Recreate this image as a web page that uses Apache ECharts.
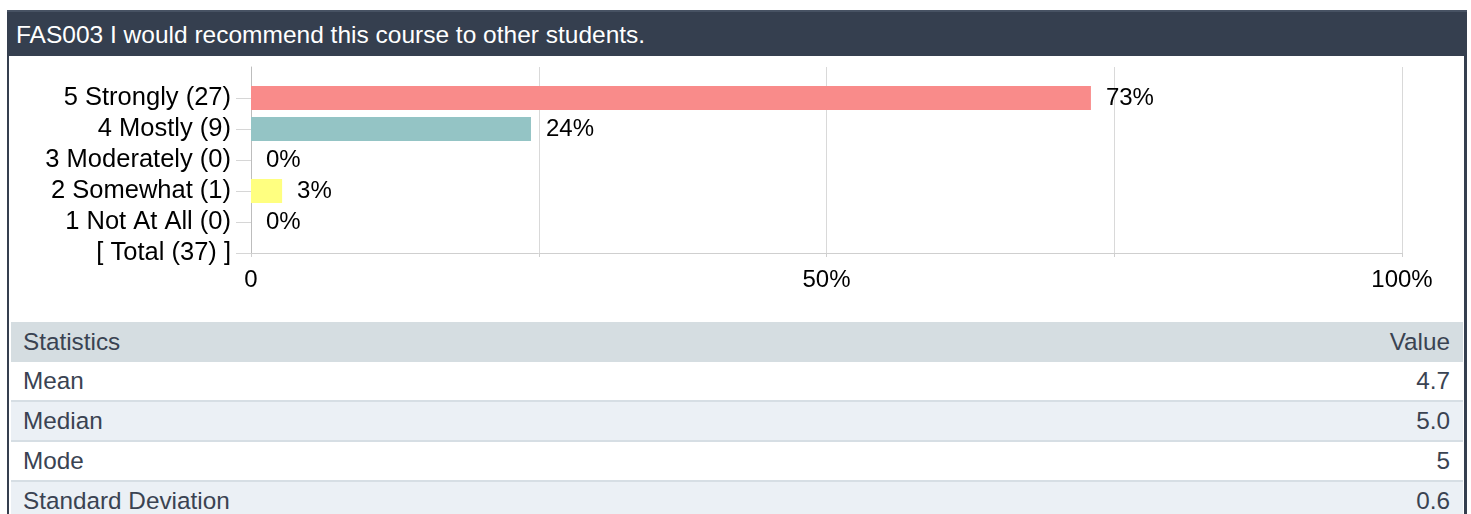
<!DOCTYPE html>
<html>
<head>
<meta charset="utf-8">
<script src="https://cdn.jsdelivr.net/npm/echarts@6/dist/echarts.min.js"></script>
<style>
  html, body { margin: 0; padding: 0; background: #ffffff; width: 1471px; height: 514px; overflow: hidden; }
  body { font-family: "Liberation Sans", Arial, sans-serif; position: relative; }
  #chart { position: absolute; left: 0; top: 0; width: 1471px; height: 320px; }
  .header { position: absolute; left: 7px; top: 10px; width: 1460px; height: 46px; background: #353f4f; border-top: 2px solid #475263; box-sizing: border-box; color: #ffffff; font-size: 24.5px; line-height: 44px; padding-left: 9px; padding-top: 1px; white-space: nowrap; }
  .bl { position: absolute; left: 7px; top: 56px; width: 2px; height: 470px; background: #353f4f; }
  .br { position: absolute; left: 1464px; top: 56px; width: 3px; height: 470px; background: #353f4f; }
  table.stats { position: absolute; left: 11px; top: 322px; width: 1452px; border-collapse: collapse; font-size: 24.3px; color: #3a4352; }
  table.stats td, table.stats th { padding: 0 13px 0 12px; font-weight: normal; height: 38px; line-height: 38px; }
  table.stats th { height: 40px; line-height: 40px; background: #d5dde1; }
  table.stats tr.r td { border-bottom: 2px solid #d6dee4; }
  table.stats tr.alt td { background: #ebf0f5; }
  .l { text-align: left; }
  .v { text-align: right; }
</style>
</head>
<body>
<div id="chart"></div>
<div class="header" id="title"></div>
<div class="bl"></div>
<div class="br"></div>
<table class="stats" id="stats"></table>
<script>
// ---- data ----
const titleText = "FAS003 I would recommend this course to other students.";
const categories = ["5 Strongly", "4 Mostly", "3 Moderately", "2 Somewhat", "1 Not At All"];
const counts = [27, 9, 0, 1, 0];
const total = 37;
const barColors = ["#f98b8a", "#94c4c5", "#b0b0b0", "#ffff80", "#c0c0c0"];
const xTickLabels = { 0: "0", 50: "50%", 100: "100%" };
const statNames = ["Mean", "Median", "Mode", "Standard Deviation"];
const statValues = ["4.7", "5.0", "5", "0.6"];

// ---- header & table ----
document.getElementById('title').textContent = titleText;
const tbl = document.getElementById('stats');
let html = '<tr><th class="l">Statistics</th><th class="v">Value</th></tr>';
statNames.forEach((n, i) => {
  html += '<tr class="r' + (i % 2 === 1 ? ' alt' : '') + '"><td class="l">' + n + '</td><td class="v">' + statValues[i] + '</td></tr>';
});
tbl.innerHTML = html;

// ---- chart ----
const yLabels = [''].concat(categories.map((c, i) => c + ' (' + counts[i] + ')')).concat(['[ Total (' + total + ') ]']);
const barData = [null].concat(counts.map((c, i) => ({
  value: c / total * 100,
  itemStyle: { color: barColors[i] }
}))).concat([null]);

const font = '"Liberation Sans", Arial, sans-serif';
const chart = echarts.init(document.getElementById('chart'), null, { renderer: 'canvas' });
chart.setOption({
  animation: false,
  backgroundColor: 'transparent',
  grid: { left: 251, right: 69, top: 67, height: 186, containLabel: false },
  xAxis: {
    type: 'value', min: 0, max: 100, interval: 25,
    axisLine: { show: true, lineStyle: { color: '#cfcfcf', width: 1 } },
    axisTick: { show: true, length: 4, lineStyle: { color: '#cfcfcf' } },
    splitLine: { show: true, lineStyle: { color: '#d9d9d9', width: 1 } },
    axisLabel: {
      margin: 15, fontSize: 24, color: '#000', fontFamily: font,
      formatter: v => (xTickLabels[v] !== undefined ? xTickLabels[v] : '')
    }
  },
  yAxis: {
    type: 'category', inverse: true, boundaryGap: false,
    data: yLabels,
    axisLine: { show: true, lineStyle: { color: '#bdbdbd', width: 1 } },
    axisTick: { show: true, length: 15, interval: (idx) => idx !== 0, lineStyle: { color: '#d6d6d6' } },
    splitLine: { show: false },
    axisLabel: { margin: 20, fontSize: 25.5, color: '#000', fontFamily: font, interval: 0 }
  },
  series: [{
    type: 'bar',
    data: barData,
    barWidth: 24,
    label: {
      show: true, position: 'right', distance: 15,
      fontSize: 24, color: '#000', fontFamily: font,
      formatter: p => (p.value == null ? '' : Math.round(p.value) + '%')
    }
  }]
});
</script>
</body>
</html>
